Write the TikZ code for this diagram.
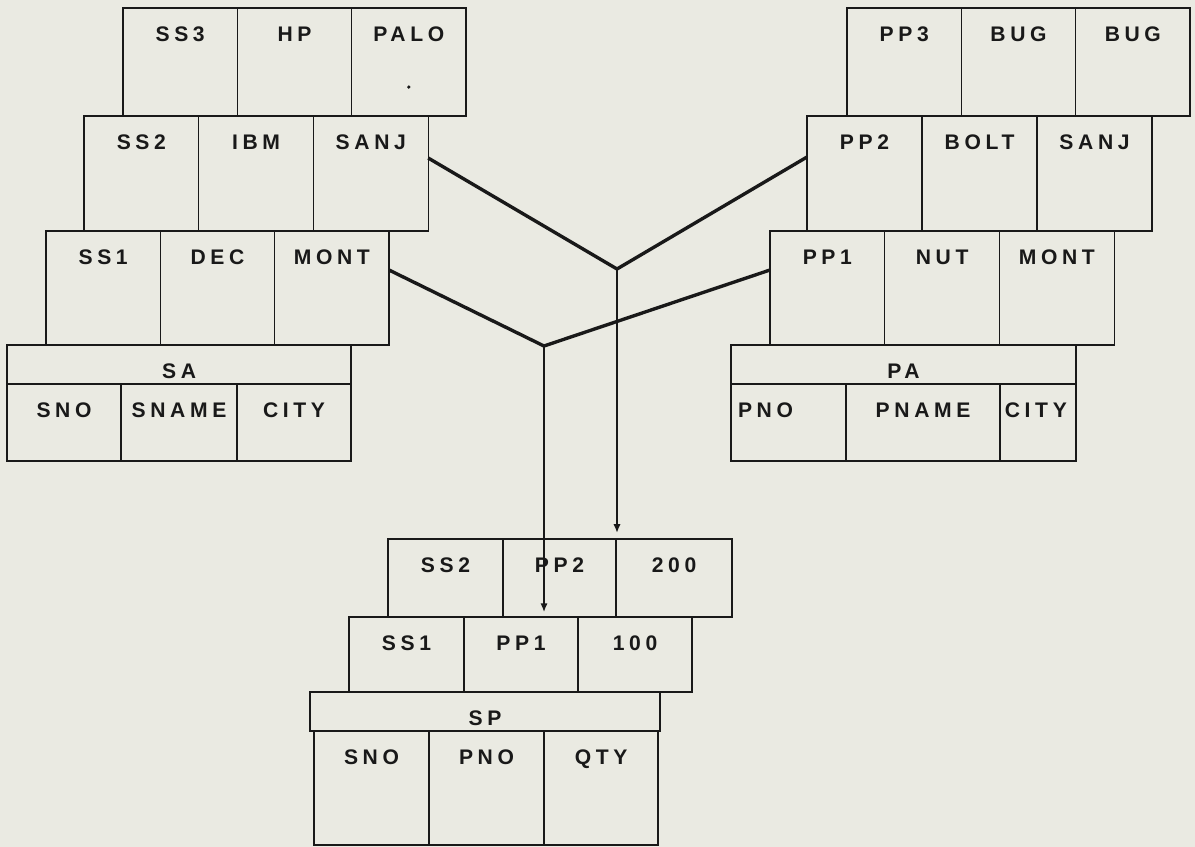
\documentclass[tikz,border=0pt]{standalone}
\usepackage{fontspec}
\usetikzlibrary{positioning,arrows.meta}
\newfontfamily\cellfont[LetterSpace=22]{Liberation Sans}
\definecolor{paper}{RGB}{234,234,226}
\definecolor{ink}{RGB}{25,25,25}

\begin{document}
\begin{tikzpicture}[x=0.025cm,y=-0.025cm,
  cell/.style={draw=ink,line width=0.9pt,inner sep=0pt,outer sep=0pt,anchor=north west,text height=8.4mm,
    font=\cellfont\bfseries\fontsize{15}{17}\selectfont,text=ink},
  lcell/.style={cell,align=left,inner xsep=1.75mm},
  link/.style={draw=ink,line width=2.4pt},
  drop/.style={draw=ink,-{Latex[length=2.2mm,width=1.8mm]}}]
  \fill[paper] (0,0) rectangle (1195,847);
  \useasboundingbox (0,0) rectangle (1195,847);

  % supplier tuples and SA
  \node[cell,minimum width=2.8575cm,text depth=1.86cm] (s3a) at (123,8) {SS3};
  \node[cell,minimum width=2.8575cm,text depth=1.86cm,right=0pt of s3a] (s3b) {HP};
  \node[cell,minimum width=2.8575cm,text depth=1.86cm,right=0pt of s3b] (s3c) {PALO};
  \fill[ink] ([yshift=-6.25mm]s3c.center) circle (1.3pt);
  \node[cell,minimum width=2.8675cm,text depth=2.035cm] (s2a) at (84,116) {SS2};
  \node[cell,minimum width=2.8675cm,text depth=2.035cm,right=0pt of s2a] (s2b) {IBM};
  \node[cell,minimum width=2.8675cm,text depth=2.035cm,right=0pt of s2b] (s2c) {SANJ};
  \node[cell,minimum width=2.8575cm,text depth=2.01cm] (s1a) at (46,231) {SS1};
  \node[cell,minimum width=2.8575cm,text depth=2.01cm,right=0pt of s1a] (s1b) {DEC};
  \node[cell,minimum width=2.8575cm,text depth=2.01cm,right=0pt of s1b] (s1c) {MONT};
  \node[cell,minimum width=8.6cm,text depth=0.135cm] (sah) at (7,345) {SA};
  \node[cell,minimum width=2.85cm,text depth=1.085cm] (saa) at (7,384) {SNO};
  \node[cell,minimum width=2.9cm,text depth=1.085cm,right=0pt of saa] (sab) {SNAME};
  \node[cell,minimum width=2.85cm,text depth=1.085cm,right=0pt of sab] (sac) {CITY};

  % part tuples and PA
  \node[cell,minimum width=2.8575cm,text depth=1.86cm] (p3a) at (847,8) {PP3};
  \node[cell,minimum width=2.8575cm,text depth=1.86cm,right=0pt of p3a] (p3b) {BUG};
  \node[cell,minimum width=2.8575cm,text depth=1.86cm,right=0pt of p3b] (p3c) {BUG};
  \node[cell,minimum width=2.875cm,text depth=2.035cm] (p2a) at (807,116) {PP2};
  \node[cell,minimum width=2.875cm,text depth=2.035cm,right=0pt of p2a] (p2b) {BOLT};
  \node[cell,minimum width=2.875cm,text depth=2.035cm,right=0pt of p2b] (p2c) {SANJ};
  \node[cell,minimum width=2.8675cm,text depth=2.01cm] (p1a) at (770,231) {PP1};
  \node[cell,minimum width=2.8675cm,text depth=2.01cm,right=0pt of p1a] (p1b) {NUT};
  \node[cell,minimum width=2.8675cm,text depth=2.01cm,right=0pt of p1b] (p1c) {MONT};
  \node[cell,minimum width=8.625cm,text depth=0.135cm] (pah) at (731,345) {PA};
  \node[lcell,text width=2.525cm,text depth=1.085cm] (paa) at (731,384) {PNO};
  \node[cell,minimum width=3.85cm,text depth=1.085cm,right=0pt of paa] (pab) {PNAME};
  \node[lcell,inner xsep=1.2mm,text width=1.66cm,text depth=1.085cm,right=0pt of pab] (pac) {CITY};

  % shipment tuples and SP
  \node[cell,minimum width=2.875cm,text depth=1.11cm] (b2a) at (388,539) {SS2};
  \node[cell,minimum width=2.825cm,text depth=1.11cm,right=0pt of b2a] (b2b) {PP2};
  \node[cell,minimum width=2.9cm,text depth=1.11cm,right=0pt of b2b] (b2c) {200};
  \node[cell,minimum width=2.875cm,text depth=1.035cm] (b1a) at (349,617) {SS1};
  \node[cell,minimum width=2.85cm,text depth=1.035cm,right=0pt of b1a] (b1b) {PP1};
  \node[cell,minimum width=2.85cm,text depth=1.035cm,right=0pt of b1b] (b1c) {100};
  \node[cell,minimum width=8.75cm,text depth=0.135cm] (sph) at (310,692) {SP};
  \node[cell,minimum width=2.875cm,text depth=2.01cm] (spa) at (314,731) {SNO};
  \node[cell,minimum width=2.875cm,text depth=2.01cm,right=0pt of spa] (spb) {PNO};
  \node[cell,minimum width=2.85cm,text depth=2.01cm,right=0pt of spb] (spc) {QTY};

  % joins
  \coordinate (j1) at (617,269);
  \coordinate (j2) at (544,346);
  \draw[link] ([yshift=-1.05cm]s2c.north east) -- (j1) -- ([yshift=-1.025cm]p2a.north west);
  \draw[link] ([yshift=-0.975cm]s1c.north east) -- (j2) -- ([yshift=-0.975cm]p1a.north west);
  \draw[drop,line width=1.3pt,shorten >=1.5mm] (j1) -- (j1 |- b2c.north);
  \draw[drop,line width=2pt,shorten >=1.2mm] (j2) -- (j2 |- b1b.north);
\end{tikzpicture}
\end{document}
